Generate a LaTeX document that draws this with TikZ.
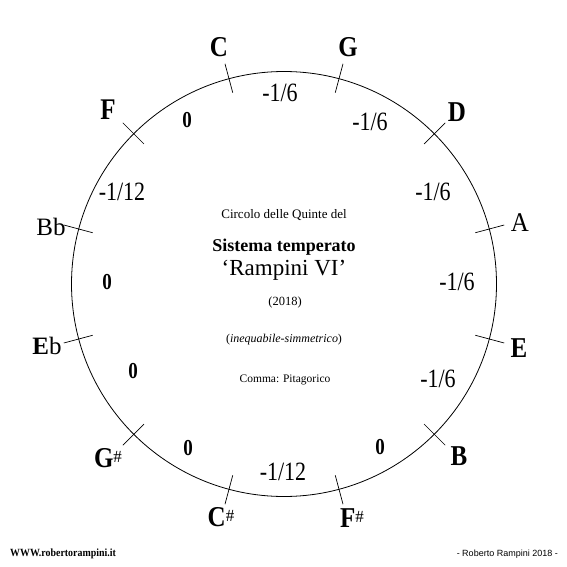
\documentclass[tikz,border=0pt]{standalone}
\usepackage{fontspec}
\setmainfont{Liberation Serif}
\setsansfont{Liberation Sans}
\newcommand{\shp}{\raisebox{5pt}{\fontsize{17}{17}\selectfont\mdseries\#}}
\newcommand{\tall}[1]{\scalebox{1}[1.15]{#1}}
\newcommand{\talll}[1]{\scalebox{1}[1.2]{#1}}
\begin{document}
\begin{tikzpicture}[x=1pt,y=-1pt,
  note/.style={font=\fontsize{25}{25}\selectfont\bfseries, inner sep=0pt},
  notereg/.style={font=\fontsize{25}{25}\selectfont, inner sep=0pt},
  frac/.style={font=\fontsize{22}{22}\selectfont, inner sep=0pt},
  zero/.style={font=\fontsize{19}{19}\selectfont\bfseries, inner sep=0pt},
  tick/.style={line width=0.7pt},
  ring/.style={line width=0.8pt},
  ctext/.style={inner sep=0pt}]
\useasboundingbox (0,0) rectangle (567,567);
\coordinate (O) at (284,284);
\draw[ring] (O) circle (212.5pt);
\foreach \a in {105,75,45,15,-15,-45,-75,-105,-135,-165,165,135}{
  \draw[tick,shift={(O)}] ({cos(\a)*198},{-sin(\a)*198}) -- ({cos(\a)*228},{-sin(\a)*228});
}
% note names
\node[note] (nC) at (219,47) {\tall{C}};
\node[note] (nG) at (348,47) {\tall{G}};
\node[note] (nD) at (457,112) {\tall{D}};
\node[notereg] (nA) at (520,223) {\scalebox{1}[1.08]{A}};
\node[note] (nE) at (519,348) {\tall{E}};
\node[note] (nB) at (459,456) {\tall{B}};
\node[note] (nFs) at (352,518) {\tall{F}\shp};
\node[note] (nCs) at (221,517) {\tall{C}\shp};
\node[note] (nGs) at (108,458) {\tall{G}\shp};
\node[note] (nEb) at (47,346) {E\mdseries b};
\node[notereg] (nBb) at (51,227) {Bb};
\node[note] (nF) at (108,110) {\talll{F}};
% interval values
\node[frac] (iCG) at (280,93) {\talll{-1/6}};
\node[frac] (iGD) at (370,122) {\talll{-1/6}};
\node[frac] (iDA) at (433,192) {\talll{-1/6}};
\node[frac] (iAE) at (457,282) {\talll{-1/6}};
\node[frac] (iEB) at (438,379) {\talll{-1/6}};
\node[zero] (iBF) at (380,447) {\talll{0}};
\node[frac] (iFC) at (283,472) {\talll{-1/12}};
\node[zero] (iCG2) at (188,448) {\talll{0}};
\node[zero] (iGE) at (133,371) {\talll{0}};
\node[zero] (iEB2) at (107,282) {\talll{0}};
\node[frac] (iBbF) at (122,192) {\talll{-1/12}};
\node[zero] (iFC2) at (187,120) {\talll{0}};
% centre text
\node[ctext, font=\fontsize{13}{13}\selectfont] (t1) at (284,215) {Circolo delle Quinte del};
\node[ctext, font=\fontsize{18}{18}\selectfont\bfseries] (t2) at (284,247) {Sistema temperato};
\node[ctext, font=\fontsize{23}{23}\selectfont] (t3) at (284,270) {‘Rampini VI’};
\node[ctext, font=\fontsize{12.5}{12.5}\selectfont] (t4) at (285,302) {(2018)};
\node[ctext, font=\fontsize{12}{12}\selectfont] (t5) at (284,340) {(\textit{inequabile-simmetrico})};
\node[ctext, font=\fontsize{11.5}{11.5}\selectfont] (t6) at (285,380) {Comma: Pitagorico};
% footer
\node[ctext, anchor=west, font=\fontsize{11}{11}\selectfont\bfseries] (w) at (10,554) {\scalebox{0.9}[1]{WWW.robertorampini.it}};
\node[ctext, anchor=east, font=\sffamily\fontsize{9}{9}\selectfont] (r) at (558,554) {- Roberto Rampini 2018 -};
\end{tikzpicture}
\end{document}
